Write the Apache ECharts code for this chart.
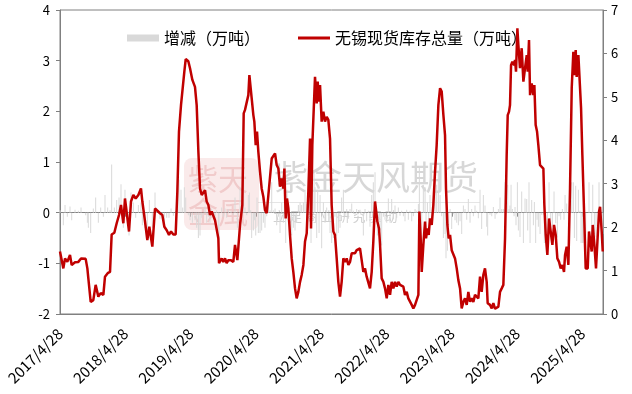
<!DOCTYPE html>
<html><head><meta charset="utf-8">
<script src="https://cdn.jsdelivr.net/npm/echarts@6/dist/echarts.min.js"></script>
<style>html,body{margin:0;padding:0;background:#fff}#c{width:632px;height:394px}</style>
</head><body><div id="c"></div>
<script>
// x positions are dates expressed as fractional years (2017/4/28 = 2017.32)
const tickLabels = ['2017/4/28','2018/4/28','2019/4/28','2020/4/28','2021/4/28','2022/4/28','2023/4/28','2024/4/28','2025/4/28'];
const xStart = 2017.32, xEnd = 2025.635;

const dates = [
 2017.32,2017.371,2017.397,2017.432,2017.473,2017.499,2017.55,2017.601,2017.642,2017.713,
 2017.739,2017.754,2017.79,2017.83,2017.866,2017.907,2017.943,2017.984,2018.009,2018.05,
 2018.086,2018.111,2018.152,2018.188,2018.224,2018.254,2018.29,2018.315,2018.341,2018.377,
 2018.407,2018.443,2018.479,2018.52,2018.56,2018.581,2018.622,2018.657,2018.688,2018.734,
 2018.775,2018.8,2018.851,2018.887,2018.918,2018.954,2018.989,2019.02,2019.056,2019.091,
 2019.117,2019.142,2019.173,2019.199,2019.224,2019.245,2019.285,2019.311,2019.347,2019.387,
 2019.413,2019.439,2019.464,2019.49,2019.515,2019.541,2019.566,2019.592,2019.617,2019.643,
 2019.668,2019.694,2019.719,2019.745,2019.755,2019.796,2019.821,2019.847,2019.872,2019.898,
 2019.939,2019.974,2020.0,2020.036,2020.077,2020.112,2020.133,2020.153,2020.179,2020.204,
 2020.22,2020.24,2020.255,2020.281,2020.296,2020.317,2020.337,2020.357,2020.383,2020.408,
 2020.434,2020.459,2020.485,2020.511,2020.536,2020.562,2020.587,2020.613,2020.638,2020.664,
 2020.689,2020.715,2020.74,2020.756,2020.776,2020.796,2020.817,2020.842,2020.868,2020.893,
 2020.919,2020.944,2020.97,2020.996,2021.021,2021.047,2021.072,2021.098,2021.123,2021.149,
 2021.164,2021.184,2021.21,2021.225,2021.251,2021.266,2021.287,2021.302,2021.327,2021.353,
 2021.378,2021.404,2021.429,2021.455,
 2021.48,2021.506,2021.531,2021.557,2021.582,2021.608,2021.633,2021.659,2021.685,2021.71,
 2021.736,2021.761,2021.787,2021.812,2021.838,2021.863,2021.889,2021.914,2021.94,2021.965,
 2021.991,2022.016,2022.042,2022.067,2022.093,2022.118,2022.144,2022.159,2022.18,2022.205,
 2022.221,2022.246,2022.272,2022.297,2022.323,2022.348,2022.374,2022.399,2022.425,2022.45,
 2022.476,2022.501,2022.527,2022.552,2022.578,2022.603,2022.629,2022.654,2022.68,2022.706,
 2022.731,2022.757,2022.782,2022.808,2022.823,2022.843,2022.859,2022.884,2022.91,2022.925,
 2022.946,2022.966,2022.986,2023.012,2023.037,2023.063,2023.088,2023.114,2023.14,2023.165,
 2023.191,2023.216,2023.231,2023.252,2023.272,2023.293,2023.318,2023.344,2023.369,2023.395,
 2023.42,2023.446,2023.471,2023.497,
 2023.522,2023.548,2023.573,2023.599,2023.624,2023.65,2023.675,2023.701,2023.726,2023.752,
 2023.777,2023.803,2023.828,2023.854,2023.869,2023.905,2023.931,2023.956,2023.982,2024.007,
 2024.033,2024.058,2024.084,2024.109,2024.135,2024.16,2024.176,2024.196,2024.211,2024.227,
 2024.247,2024.273,2024.288,2024.303,2024.324,2024.339,2024.364,2024.39,2024.416,2024.441,
 2024.467,2024.482,2024.502,2024.518,2024.543,2024.569,2024.584,2024.604,2024.625,2024.645,
 2024.671,2024.696,2024.722,2024.737,2024.758,2024.783,2024.809,2024.834,2024.86,2024.885,
 2024.911,2024.936,2024.962,2024.987,2025.013,2025.038,2025.054,2025.079,2025.105,2025.13,
 2025.156,2025.181,2025.197,2025.217,2025.232,2025.258,2025.283,2025.299,2025.319,2025.345,
 2025.37,2025.401,2025.421,2025.447,2025.462,2025.478,2025.503,2025.528,2025.549,2025.574,
 2025.59,2025.615,2025.631
];

// 无锡现货库存总量（万吨）, right axis
const stock = [
 1.44,1.05,1.28,1.20,1.36,1.13,1.19,1.20,1.28,1.27,
 1.05,0.82,0.28,0.32,0.67,0.40,0.48,0.44,0.86,0.94,
 0.97,1.83,1.87,2.09,2.28,2.51,2.09,2.66,2.70,1.90,
 2.59,2.74,2.66,2.74,2.89,2.59,2.13,1.70,2.01,1.55,
 2.43,2.47,2.32,2.28,2.01,1.93,1.82,1.90,1.83,1.83,
 2.82,4.20,4.81,4.85,5.58,5.87,5.82,5.66,5.39,5.23,
 4.81,3.74,2.89,2.74,2.70,2.85,2.59,2.51,2.28,2.36,
 2.32,2.16,2.20,1.74,1.17,1.28,1.20,1.28,1.17,1.24,
 1.24,1.20,1.59,1.24,2.05,2.51,4.62,4.70,4.66,5.04,
 5.50,5.54,4.97,4.58,4.43,3.89,4.20,3.74,3.28,2.89,
 2.70,2.39,2.32,2.74,2.78,3.58,3.62,3.70,3.43,3.35,
 2.93,3.12,2.89,3.35,2.20,2.66,2.43,1.82,1.28,0.97,
 0.59,0.36,0.51,0.74,0.90,1.13,1.67,1.86,2.82,4.04,
 1.97,3.89,4.89,5.46,4.85,5.35,4.89,5.27,4.43,4.66,
 4.43,4.54,4.47,4.04,
 2.51,1.90,1.82,1.28,0.74,0.40,0.74,1.28,1.20,1.28,
 1.13,1.20,1.40,1.44,1.40,1.47,1.44,1.51,1.51,0.97,
 1.05,0.86,0.90,0.59,0.97,1.67,2.59,2.62,2.13,1.97,
 1.59,0.82,0.74,0.59,0.36,0.67,0.44,0.74,0.59,0.74,
 0.63,0.74,0.67,0.71,0.63,0.44,0.51,0.36,0.40,0.21,
 0.13,0.21,0.25,0.44,2.36,1.74,0.97,1.59,2.13,1.74,
 1.97,1.82,2.20,2.05,2.51,3.28,3.89,4.81,5.20,5.12,
 4.58,4.12,2.89,2.05,1.74,1.82,1.47,1.44,1.28,1.05,
 0.78,0.59,0.13,0.28,
 0.36,0.21,0.51,0.28,0.36,0.28,0.44,0.48,0.36,0.86,
 0.51,0.90,1.05,0.74,0.25,0.21,0.13,0.25,0.12,0.09,
 0.17,0.51,0.59,0.67,1.74,3.66,4.58,4.66,4.81,5.73,
 5.81,5.73,5.85,5.58,6.58,6.19,5.66,6.12,5.35,5.66,
 5.96,5.58,6.31,5.04,5.31,5.04,5.27,4.35,4.20,3.89,
 3.43,3.39,3.35,2.51,1.82,1.36,2.20,1.90,1.59,2.05,
 1.82,1.28,1.20,1.05,1.13,0.97,1.36,1.55,1.13,2.89,
 5.20,6.04,5.50,6.08,5.46,5.96,6.00,4.74,3.66,2.36,
 1.05,1.05,1.90,1.90,1.44,2.05,1.59,1.05,1.05,2.36,
 2.47,1.90,1.44
];

// 增减（万吨）, left axis
const change = [
 0.05,-0.25,0.15,-0.08,0.12,-0.15,0.06,0.04,0.1,-0.05,
 -0.2,-0.3,-0.4,0.08,0.3,-0.2,0.1,-0.08,0.35,0.1,
 0.05,0.95,0.1,0.25,0.3,0.56,-0.3,0.45,0.12,-0.45,
 0.4,0.2,-0.1,0.15,0.2,-0.25,-0.3,-0.35,0.25,-0.3,
 0.4,0.08,-0.12,-0.05,-0.2,-0.1,-0.1,0.08,-0.06,0.03,
 0.55,0.65,0.45,0.1,0.5,0.3,-0.05,-0.15,-0.2,-0.15,
 -0.3,-0.5,-0.45,-0.1,-0.05,0.12,-0.2,-0.08,-0.2,0.08,
 -0.04,-0.15,0.05,-0.35,-0.5,0.1,-0.08,0.08,-0.1,0.07,
 0.03,-0.05,0.3,-0.3,0.5,0.45,0.8,0.1,-0.05,0.35,
 0.4,0.05,-0.5,-0.35,-0.15,-0.45,0.3,-0.4,-0.4,-0.35,
 -0.2,-0.3,-0.07,0.4,0.05,0.6,0.05,0.08,-0.25,-0.08,
 -0.4,0.2,-0.2,0.45,-0.6,0.45,-0.2,-0.5,-0.45,-0.3,
 -0.35,-0.2,0.15,0.2,0.15,0.2,0.45,0.18,0.7,0.9,
 -0.6,0.6,0.8,0.5,-0.5,0.45,-0.4,0.35,-0.7,0.2,
 -0.2,0.1,-0.06,-0.4,
 -0.6,-0.5,-0.08,-0.45,-0.4,-0.3,0.3,0.45,-0.07,0.07,
 -0.12,0.07,0.18,0.04,-0.04,0.07,-0.03,0.06,0.02,-0.45,
 0.07,-0.17,0.04,-0.28,0.35,0.6,0.8,0.03,-0.45,-0.15,
 -0.35,-0.65,-0.08,-0.14,-0.2,0.28,-0.2,0.27,-0.13,0.14,
 -0.1,0.1,-0.06,0.04,-0.07,-0.17,0.06,-0.14,0.04,-0.17,
 -0.07,0.07,0.04,0.17,0.9,-0.55,-0.7,0.55,0.5,-0.35,
 0.2,-0.13,0.35,-0.13,0.42,0.7,0.55,0.8,0.35,-0.07,
 -0.5,-0.42,-0.9,-0.75,-0.28,0.07,-0.32,-0.03,-0.15,-0.2,
 -0.25,-0.17,-0.42,0.14,
 0.07,-0.14,0.27,-0.2,0.07,-0.07,0.14,0.04,-0.11,0.45,
 -0.32,0.35,0.14,-0.28,-0.45,-0.04,-0.07,0.11,-0.12,-0.03,
 0.07,0.3,0.07,0.07,0.6,0.6,0.55,0.07,0.14,0.55,
 0.07,-0.07,0.11,-0.25,0.6,-0.35,-0.48,0.42,-0.6,0.28,
 0.27,-0.35,0.6,-0.6,0.25,-0.25,0.21,-0.6,-0.14,-0.28,
 -0.42,-0.04,-0.04,-0.6,-0.6,-0.42,0.6,-0.28,-0.28,0.42,
 -0.21,-0.49,-0.07,-0.14,0.07,-0.14,0.35,0.18,-0.38,0.6,
 0.6,0.6,-0.5,0.53,-0.56,0.45,0.04,-0.6,-0.6,-0.6,
 -0.6,0.0,0.6,0.0,-0.42,0.55,-0.42,-0.49,0.0,0.6,
 0.1,-0.5,-0.42
];

const FONT = '"Noto Sans CJK SC", "Microsoft YaHei", sans-serif';
const AX = '#808080';
const chart = echarts.init(document.getElementById('c'), null, {renderer: 'canvas'});
const labelFmt = v => { const i = Math.round(v - xStart); return tickLabels[i] || ''; };

chart.setOption({
  animation: false,
  textStyle: {fontFamily: FONT},
  grid: {left: 60, right: 29, top: 10, bottom: 80, show: true, borderColor: AX, borderWidth: 1, backgroundColor: 'transparent'},
  legend: {
    left: 127, top: 30, padding: 0, itemWidth: 32, itemHeight: 7, itemGap: 38,
    textStyle: {fontSize: 16, color: '#000', fontFamily: FONT},
    data: [
      {name: '增减（万吨）', icon: 'rect'},
      {name: '无锡现货库存总量（万吨）', icon: 'path://M0,0 L32,0 L32,3 L0,3 Z', itemStyle: {color: '#c00000'}}
    ]
  },
  graphic: [
    {type: 'rect', z: 1, shape: {x: 184, y: 158, width: 75, height: 72, r: 8}, style: {fill: 'rgba(230,150,150,0.2)'}},
    {type: 'text', z: 1, left: 188, top: 162, style: {text: '紫天\n金風', font: '30px ' + FONT, fill: 'rgba(200,60,60,0.18)', lineHeight: 33}},
    {type: 'text', z: 1, left: 274, top: 160, style: {text: '紫金天风期货', font: '34px ' + FONT, fill: 'rgba(160,160,160,0.42)'}},
    {type: 'rect', z: 1, shape: {x: 258, y: 202, width: 222, height: 1}, style: {fill: 'rgba(180,180,180,0.35)'}},
    {type: 'text', z: 1, left: 273, top: 210, style: {text: '立 足 商 业 研 究 驱 动', font: '13px ' + FONT, fill: 'rgba(150,150,150,0.45)'}}
  ],
  xAxis: [
    {type: 'value', min: xStart, max: xEnd, interval: 1, position: 'bottom',
     axisLine: {show: true, onZero: false, lineStyle: {color: AX, width: 1}},
     axisTick: {show: false}, splitLine: {show: false},
     axisLabel: {rotate: 45, formatter: labelFmt, showMaxLabel: false, showMinLabel: true, fontSize: 15, color: '#000', margin: 17, fontFamily: FONT}},
    {type: 'value', min: xStart, max: xEnd, interval: 1, position: 'top',
     axisLine: {show: true, onZero: true, lineStyle: {color: AX, width: 1}},
     axisTick: {show: true, inside: true, length: 4, lineStyle: {color: AX}},
     axisLabel: {show: false}, splitLine: {show: false}}
  ],
  yAxis: [
    {type: 'value', min: -2, max: 4, interval: 1, position: 'left',
     axisLine: {show: true, onZero: false, lineStyle: {color: AX, width: 1}},
     axisTick: {show: true, length: 4, lineStyle: {color: AX}},
     axisLabel: {color: '#000', fontSize: 13, margin: 10, fontFamily: FONT},
     splitLine: {show: false}},
    {type: 'value', min: 0, max: 7, interval: 1, position: 'right',
     axisLine: {show: true, onZero: false, lineStyle: {color: AX, width: 1}},
     axisTick: {show: true, length: 4, lineStyle: {color: AX}},
     axisLabel: {color: '#000', fontSize: 13, margin: 8, fontFamily: FONT},
     splitLine: {show: false}}
  ],
  series: [
    {name: '增减（万吨）', type: 'bar', xAxisIndex: 0, yAxisIndex: 0, barWidth: 1, z: 1,
     itemStyle: {color: '#d9d9d9'}, data: dates.map((d, i) => [d, change[i]])},
    {name: '无锡现货库存总量（万吨）', type: 'line', xAxisIndex: 0, yAxisIndex: 1, symbol: 'none', showSymbol: false, z: 5,
     lineStyle: {color: '#c00000', width: 2.5}, itemStyle: {color: '#c00000'},
     data: dates.map((d, i) => [d, stock[i]])}
  ]
});
</script></body></html>
